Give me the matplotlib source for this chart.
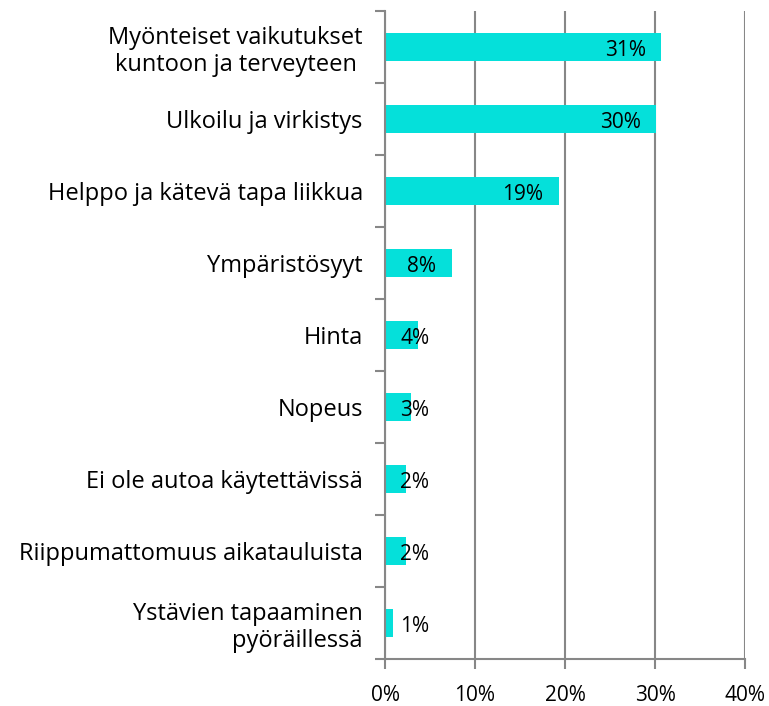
import matplotlib.pyplot as plt
import numpy as np

categories = [
    'Myönteiset vaikutukset\nkuntoon ja terveyteen ',
    'Ulkoilu ja virkistys',
    'Helppo ja kätevä tapa liikkua',
    'Ympäristösyyt',
    'Hinta',
    'Nopeus',
    'Ei ole autoa käytettävissä',
    'Riippumattomuus aikatauluista',
    'Ystävien tapaaminen\npyöräillessä',
]
values = [30.7, 30.1, 19.3, 7.4, 3.7, 2.9, 2.3, 2.3, 0.9]
labels = ['31%', '30%', '19%', '8%', '4%', '3%', '2%', '2%', '1%']
xticks = [0, 10, 20, 30, 40]

plt.rcParams['font.family'] = ['Open Sans', 'DejaVu Sans']
grey = '#878787'

fig = plt.figure(figsize=(7.69, 7.06), dpi=100)
ax = fig.add_axes([0.5007, 0.0666, 0.4681, 0.9178])

y = np.arange(len(categories))
ax.barh(y, values, height=0.39, color='#05E0DA', zorder=3)

for yi, v, lab in zip(y, values, labels):
    if v >= 7:
        ax.text(v - 1.7, yi + 0.05, lab, ha='right', va='center', fontsize=15, zorder=4)
    else:
        ax.text(1.7, yi + 0.05, lab, ha='left', va='center', fontsize=15, zorder=4)

ax.set_xlim(0, 40)
ax.set_ylim(len(categories) - 0.5, -0.5)
ax.set_xticks(xticks)
ax.set_xticklabels([f'{t}%' for t in xticks], fontsize=15)
ax.set_yticks(y)
ax.set_yticklabels(categories, fontsize=17, linespacing=1.15)
ax.set_yticks(np.arange(len(categories) + 1) - 0.5, minor=True)

ax.tick_params(axis='y', which='major', length=0, pad=16)
ax.tick_params(axis='y', which='minor', length=7, width=1.5, color=grey, direction='out')
ax.tick_params(axis='x', length=7, width=1.5, color=grey, direction='out', pad=12)

ax.grid(axis='x', color=grey, linewidth=1.5, zorder=1)
for s in ['top', 'right']:
    ax.spines[s].set_visible(False)
for s in ['left', 'bottom']:
    ax.spines[s].set_color(grey)
    ax.spines[s].set_linewidth(1.5)
    ax.spines[s].set_zorder(5)

fig.savefig('out.png', dpi=100)
